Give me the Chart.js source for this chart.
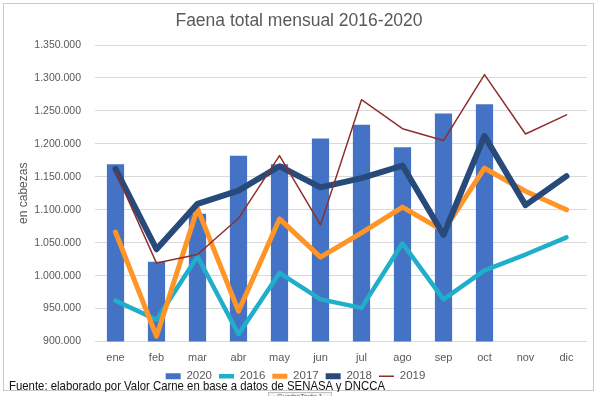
<!DOCTYPE html>
<html>
<head>
<meta charset="utf-8">
<script src="https://cdn.jsdelivr.net/npm/chart.js@4.4.0/dist/chart.umd.min.js"></script>
<style>
    body { margin: 0; background: #fff; }
    #wrap { position: relative; width: 600px; height: 396px; overflow: hidden; }
    #frame { position: absolute; left: 3px; top: 3px; width: 591px; height: 388px; border: 1px solid #c9c9c9; box-sizing: border-box; }
    #chart { position: absolute; left: 0; top: 0; }
    #footer { position: absolute; left: 9px; top: 378px; height: 14px; overflow: hidden; white-space: nowrap;
              font-family: 'Liberation Sans', Arial, sans-serif; font-size: 13px; color: #111; line-height: 16px;
              transform: scaleX(0.875); transform-origin: left top; }
    #tab { position: absolute; left: 268px; top: 392px; width: 62px; height: 8px; border: 1px solid #bdbdbd; background: #f3f3f3;
           font-family: 'Liberation Sans', sans-serif; font-size: 7px; color: #555; text-align: center; line-height: 8px; overflow: hidden; }
</style>
</head>
<body>
<div id="wrap">
    <div id="frame"></div>
    <canvas id="chart" width="600" height="396"></canvas>
    <div id="footer">Fuente: elaborado por Valor Carne en base a datos de SENASA y DNCCA</div>
    <div id="tab">CuadroTexto 1</div>
</div>
<script>
// Datos (cabezas faenadas por mes)
const months = ['ene', 'feb', 'mar', 'abr', 'may', 'jun', 'jul', 'ago', 'sep', 'oct', 'nov', 'dic'];
const faena2020 = [1169000, 1021000, 1094000, 1182000, 1169000, 1208000, 1229000, 1195000, 1246000, 1260000, null, null];
const faena2016 = [962000, 933000, 1029000, 911000, 1004000, 964000, 951000, 1049000, 964000, 1008000, 1032000, 1058000];
const faena2017 = [1066000, 908000, 1102000, 946000, 1086000, 1028000, 1065000, 1104000, 1068000, 1163000, 1128000, 1100000];
const faena2018 = [1162000, 1040000, 1109000, 1129000, 1166000, 1134000, 1148000, 1167000, 1062000, 1212000, 1107000, 1151000];
const faena2019 = [1158000, 1019000, 1032000, 1087000, 1182000, 1077000, 1267000, 1223000, 1205000, 1305000, 1215000, 1244000];
const yTicksMin = 900000;
const yTicksMax = 1350000;

const grey = '#595959';
const fontFamily = "'Liberation Sans', Arial, sans-serif";

function fmtMiles(v) {
    return String(v).replace(/\B(?=(\d{3})+(?!\d))/g, '.');
}

function lineSet(label, data, color, width, order) {
    return {
        type: 'line',
        label: label,
        data: data,
        borderColor: color,
        backgroundColor: color,
        borderWidth: width,
        pointRadius: 0,
        pointHoverRadius: 0,
        tension: 0,
        borderCapStyle: 'round',
        borderJoinStyle: 'round',
        pointStyle: 'line',
        order: order
    };
}

// titulo dibujado a mano arriba del grafico
const titlePlugin = {
    id: 'topTitle',
    afterDraw(chart) {
        const ctx = chart.ctx;
        ctx.save();
        ctx.fillStyle = grey;
        ctx.font = '17.5px ' + fontFamily;
        ctx.textAlign = 'center';
        ctx.textBaseline = 'middle';
        ctx.fillText('Faena total mensual 2016-2020', 299, 21);
        ctx.restore();
    }
};

const ctx = document.getElementById('chart').getContext('2d');
new Chart(ctx, {
    data: {
        labels: months,
        datasets: [
            {
                type: 'bar',
                label: '2020',
                data: faena2020,
                backgroundColor: '#4472c4',
                borderWidth: 0,
                barPercentage: 0.42,
                categoryPercentage: 1,
                pointStyle: 'rect',
                order: 5
            },
            lineSet('2016', faena2016, '#20aecb', 4.5, 4),
            lineSet('2017', faena2017, '#ff9427', 5, 3),
            lineSet('2018', faena2018, '#284a7a', 6, 2),
            lineSet('2019', faena2019, '#8e2f2c', 1.5, 1)
        ]
    },
    options: {
        responsive: false,
        animation: false,
        layout: { padding: { left: 4, right: 13, top: 45, bottom: 4 } },
        plugins: {
            legend: {
                position: 'bottom',
                labels: {
                    sort: (a, b) => a.datasetIndex - b.datasetIndex,
                    usePointStyle: true,
                    pointStyleWidth: 15,
                    boxHeight: 6,
                    padding: 7,
                    color: grey,
                    font: { family: fontFamily, size: 11.5 }
                }
            },
            tooltip: { enabled: false }
        },
        scales: {
            x: {
                afterFit: (scale) => { scale.height = 22; },
                grid: { display: false, drawTicks: false },
                border: { display: false },
                ticks: { color: grey, padding: 10, font: { family: fontFamily, size: 11 } }
            },
            y: {
                min: yTicksMin,
                max: yTicksMax,
                afterFit: (scale) => { scale.width = 91; },
                grid: { color: '#d9d9d9', drawTicks: false },
                border: { display: false },
                ticks: {
                    stepSize: 50000,
                    color: grey,
                    padding: 14,
                    font: { family: fontFamily, size: 10.5 },
                    callback: (v) => fmtMiles(v)
                },
                title: {
                    display: true,
                    text: 'en cabezas',
                    color: grey,
                    padding: { top: 12 },
                    font: { family: fontFamily, size: 12 }
                }
            }
        }
    },
    plugins: [titlePlugin]
});
</script>
</body>
</html>
